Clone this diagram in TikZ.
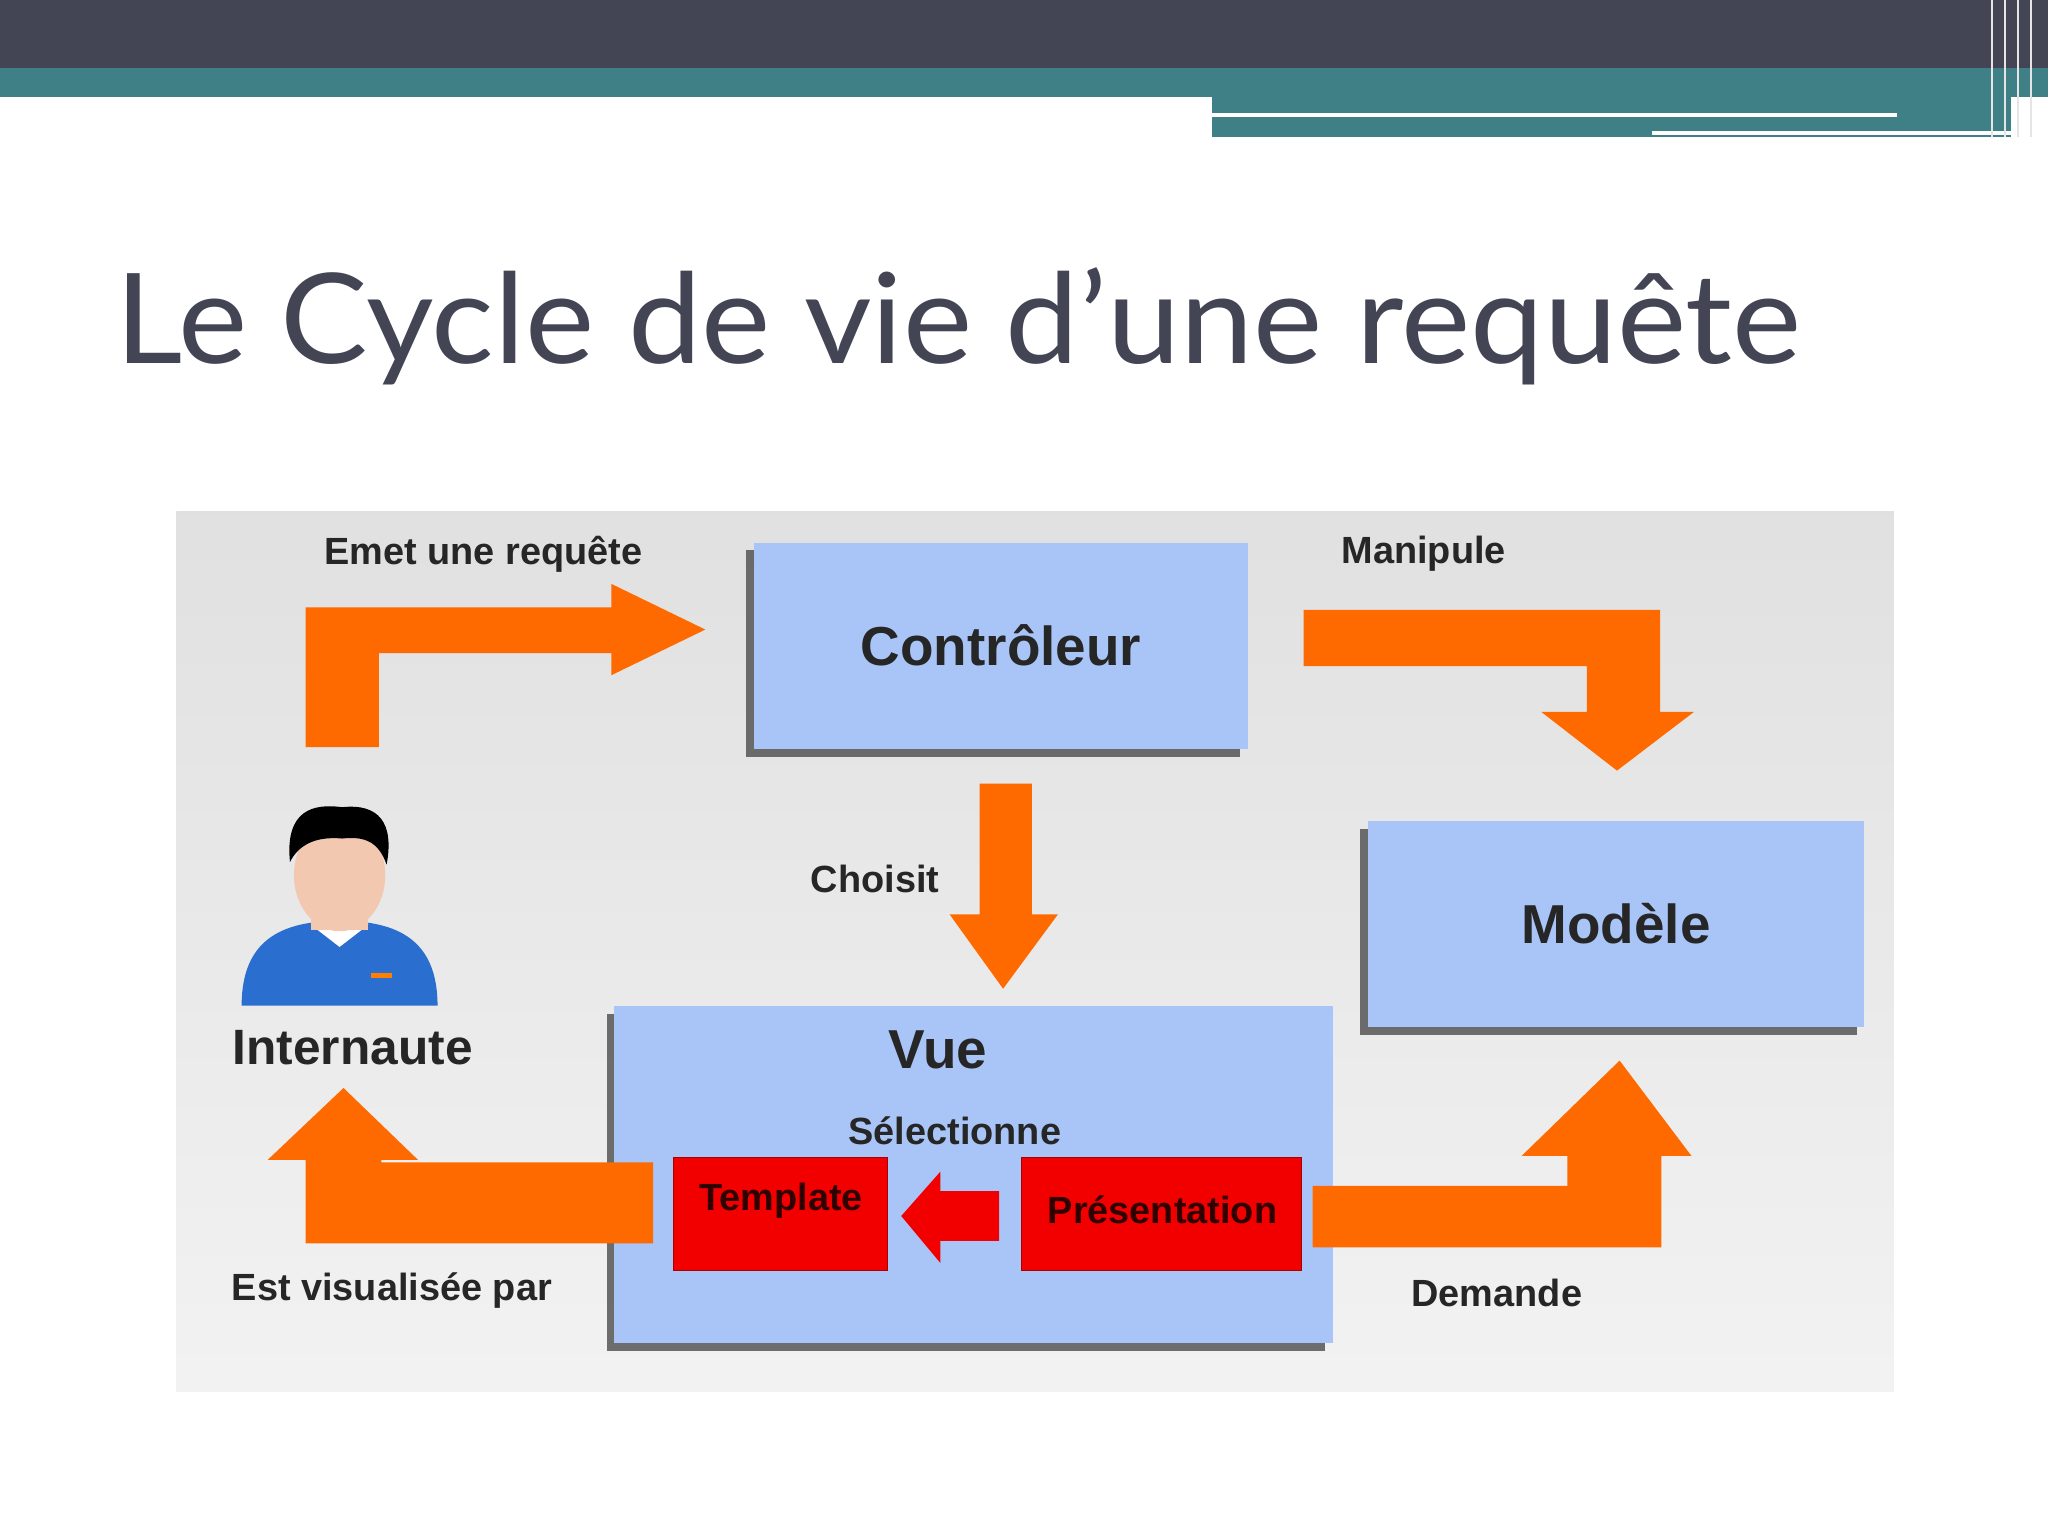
\documentclass[tikz,border=0pt]{standalone}
\usepackage{fontspec}
\setmainfont{Liberation Sans}
\newfontfamily\titlefont{Lato}
\usetikzlibrary{shadows}
\definecolor{dark}{HTML}{434454}
\definecolor{teal}{HTML}{3F7F86}
\definecolor{boxblue}{HTML}{A9C5F7}
\definecolor{orng}{HTML}{FF6A00}
\definecolor{rd}{HTML}{F20000}
\definecolor{skin}{HTML}{F2C9B0}
\definecolor{shirt}{HTML}{2A6FD0}
\begin{document}
\begin{tikzpicture}[x=0.5pt,y=-0.5pt,
 box/.style={draw=none,fill=boxblue,drop shadow={shadow xshift=-3pt,shadow yshift=-3pt,fill=black!70,opacity=.8}},
 redbox/.style={fill=rd,draw=rd!70!black},
 lbl/.style={font=\bfseries\fontsize{14.5}{16}\selectfont,text=black!85},
 big/.style={font=\bfseries\fontsize{21}{24}\selectfont,text=black!85},
 arr/.style={fill=orng,draw=none}]
\useasboundingbox (0,0) rectangle (1568,1176);
\fill[white] (0,0) rectangle (1568,1176);
% header
\fill[dark] (0,0) rectangle (1568,52);
\fill[teal] (0,52) rectangle (1568,74);
\fill[teal] (928,74) rectangle (1540,105);
\draw[white,line width=1.5pt] (928,88) -- (1452,88);
\draw[white,line width=1.5pt] (1265,102) -- (1540,102);
\foreach \x in {1525,1535,1545,1555} \draw[white!80!gray,line width=0.8pt] (\x,0) -- (\x,105);
% title
\node[anchor=base west,inner sep=0,text=dark,font=\titlefont\fontsize{48}{56}\selectfont,xscale=1.045] (title) at (88,278) {Le Cycle de vie d’une requête};
% diagram background
\shade[top color=black!12,bottom color=black!5] (135,392) rectangle (1450,1065);
% boxes
\node[box,minimum width=189pt,minimum height=79pt,anchor=north west] (ctrl) at (577,415) {};
\node[big] at (ctrl.center) {Contrôleur};
\node[box,minimum width=190pt,minimum height=79pt,anchor=north west] (mod) at (1047,628) {};
\node[big] at (mod.center) {Modèle};
\node[box,minimum width=275pt,minimum height=129pt,anchor=north west] (vue) at (470,770) {};
\node[big] (vuet) at (718,804) {Vue};
\node[lbl] (sel) at (731,866) {Sélectionne};
\node[redbox,minimum width=82pt,minimum height=43pt,anchor=north west] (tpl) at (515,886) {};
\node[lbl,text=black!80!rd] at (598,919) {Template};
\node[redbox,minimum width=107pt,minimum height=43pt,anchor=north west] (pres) at (782,886) {};
\node[lbl,text=black!80!rd] at (890,926) {Présentation};
% arrows
\fill[arr] (234,572) -- (234,465) -- (468,465) -- (468,447) -- (540,482) -- (468,517) -- (468,500) -- (290,500) -- (290,572) -- cycle;
\fill[arr] (998,467) -- (1271,467) -- (1271,545) -- (1297,545) -- (1238,590) -- (1180,545) -- (1215,545) -- (1215,510) -- (998,510) -- cycle;
\fill[arr] (750,600) -- (790,600) -- (790,700) -- (810,700) -- (768,757) -- (727,700) -- (750,700) -- cycle;
\fill[arr] (500,890) -- (292,890) -- (292,888) -- (320,888) -- (263,833) -- (205,888) -- (234,888) -- (234,952) -- (500,952) -- cycle;
\fill[arr] (1005,908) -- (1200,908) -- (1200,885) -- (1165,885) -- (1240,812) -- (1295,885) -- (1272,885) -- (1272,955) -- (1005,955) -- cycle;
\fill[rd] (765,912) -- (720,912) -- (720,897) -- (690,931) -- (720,967) -- (720,950) -- (765,950) -- cycle;
% person
\fill[shirt] (185,770) .. controls (185,720) and (215,705) .. (260,705) .. controls (305,705) and (335,720) .. (335,770) -- cycle;
\fill[white] (238,708) -- (260,725) -- (282,708) -- cycle;
\fill[orange] (284,745) rectangle (300,749);
\fill[skin] (238,690) rectangle (282,712);
\fill[skin] (260,670) ellipse (35 and 43);
\fill[black] (222,660) .. controls (218,620) and (240,615) .. (262,618) .. controls (290,615) and (302,630) .. (296,662) .. controls (290,645) and (280,640) .. (262,642) .. controls (240,640) and (228,648) .. (222,660) -- cycle;
% labels
\node[lbl] (l1) at (370,424) {Emet une requête};
\node[lbl] (l2) at (1090,424) {Manipule};
\node[lbl] (l3) at (670,673) {Choisit};
\node[lbl] (l4) at (300,988) {Est visualisée par};
\node[lbl] (l5) at (1146,990) {Demande};
\node[font=\bfseries\fontsize{19}{22}\selectfont,text=black!85] (inet) at (270,802) {Internaute};
\end{tikzpicture}
\end{document}
